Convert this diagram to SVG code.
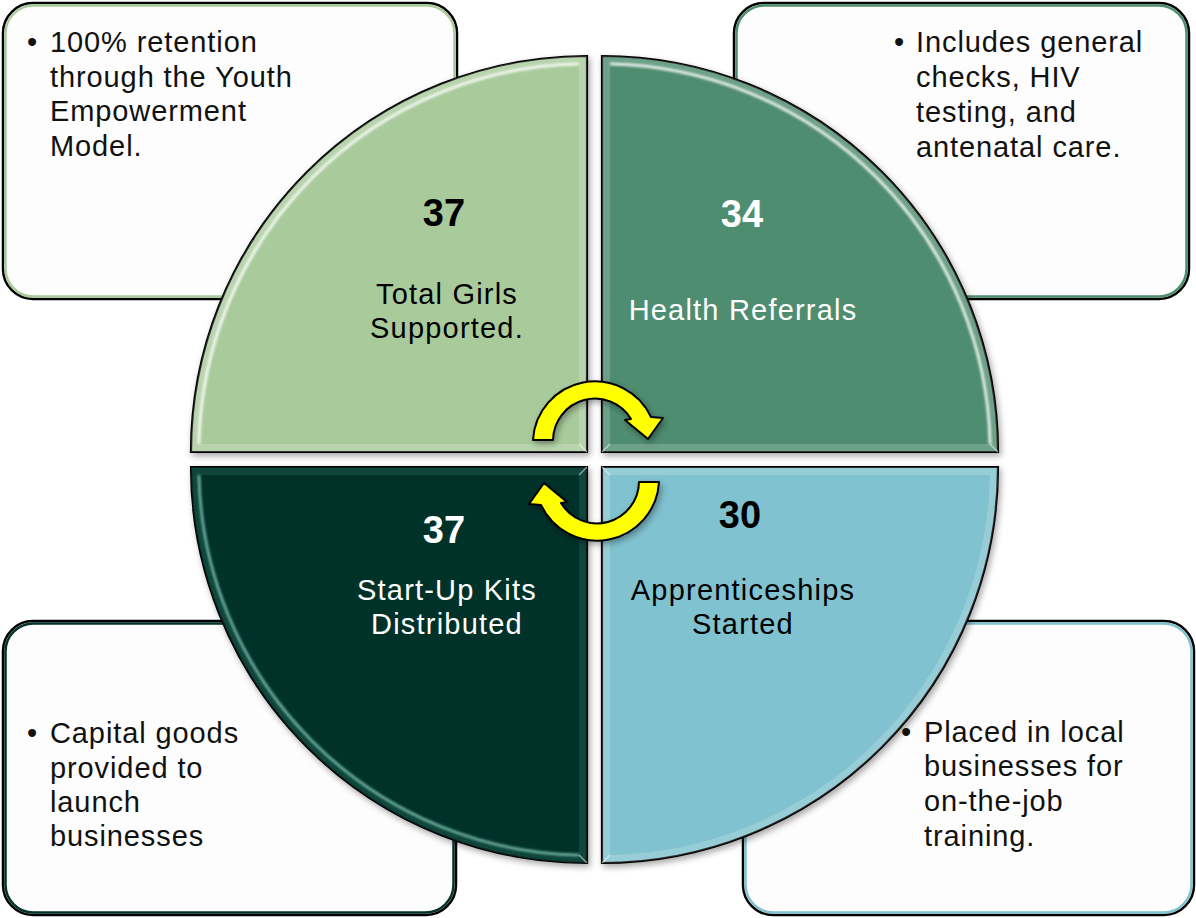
<svg xmlns="http://www.w3.org/2000/svg" width="1196" height="918" viewBox="0 0 1196 918">
  <defs>
    <style>
      .box-outer { fill: #fdfdfd; stroke: #000; stroke-width: 2.5; }
      .box-inner { fill: none; stroke-width: 2.5; }
      .quad { stroke: #000; stroke-width: 2.2; }
      .band { fill: #fff; fill-opacity: 0.18; fill-rule: evenodd; }
      .ridge { fill: none; stroke: #fff; stroke-width: 3; stroke-opacity: 0.8; }
      .miter { stroke: #fff; stroke-opacity: 0.5; stroke-width: 1.5; }
      .num { font-family: "Liberation Sans", Arial, sans-serif; font-weight: bold; font-size: 38px; text-anchor: middle; }
      .lbl { font-family: "Liberation Sans", Arial, sans-serif; font-size: 29px; letter-spacing: 1.2px; text-anchor: middle; }
      .note { font-family: "Liberation Sans", Arial, sans-serif; font-size: 29px; letter-spacing: 0.9px; fill: #111; }
      .arrow { fill: #ffff00; stroke: #000; stroke-width: 2; stroke-linejoin: round; }
    </style>
    <filter id="shadow" x="-10%" y="-10%" width="120%" height="120%">
      <feDropShadow dx="2" dy="3" stdDeviation="3" flood-color="#000" flood-opacity="0.35"/>
    </filter>
    <filter id="soft" x="-5%" y="-5%" width="110%" height="110%">
      <feGaussianBlur stdDeviation="1.2"/>
    </filter>
  </defs>

  <!-- callout boxes (behind the circle) -->
  <g id="note-retention">
    <rect class="box-outer" x="3" y="3" width="454" height="296" rx="30"/>
    <rect class="box-inner" x="5.5" y="5.5" width="449" height="291" rx="28" stroke="#a9cb9c"/>
    <text class="note" x="27" y="52">•</text>
    <text class="note"><tspan x="50" y="52">100% retention</tspan><tspan x="50" y="87">through the Youth</tspan><tspan x="50" y="121">Empowerment</tspan><tspan x="50" y="156">Model.</tspan></text>
  </g>
  <g id="note-health">
    <rect class="box-outer" x="734" y="3" width="455" height="296" rx="30"/>
    <rect class="box-inner" x="736.5" y="5.5" width="450" height="291" rx="28" stroke="#4f8d6f"/>
    <text class="note" x="894" y="52">•</text>
    <text class="note"><tspan x="916" y="52">Includes general</tspan><tspan x="916" y="87">checks, HIV</tspan><tspan x="916" y="122">testing, and</tspan><tspan x="916" y="157">antenatal care.</tspan></text>
  </g>
  <g id="note-kits">
    <rect class="box-outer" x="3" y="621" width="453" height="294" rx="30"/>
    <rect class="box-inner" x="5.5" y="623.5" width="448" height="289" rx="28" stroke="#02332b"/>
    <text class="note" x="27" y="743">•</text>
    <text class="note"><tspan x="50" y="743">Capital goods</tspan><tspan x="50" y="778">provided to</tspan><tspan x="50" y="812">launch</tspan><tspan x="50" y="846">businesses</tspan></text>
  </g>
  <g id="note-apprentice">
    <rect class="box-outer" x="743" y="621" width="451" height="294" rx="30"/>
    <rect class="box-inner" x="745.5" y="623.5" width="446" height="289" rx="28" stroke="#80c2cf"/>
    <text class="note" x="901" y="742">•</text>
    <text class="note"><tspan x="924" y="742">Placed in local</tspan><tspan x="924" y="776">businesses for</tspan><tspan x="924" y="811">on-the-job</tspan><tspan x="924" y="846">training.</tspan></text>
  </g>

  <!-- quarter-circle segments -->
  <g id="seg-girls">
    <path class="quad" filter="url(#shadow)" fill="#a9cb9c" d="M587,452 L191,452 A396,396 0 0 1 587,56 Z"/>
    <path class="band" d="M587,452 L191,452 A396,396 0 0 1 587,56 Z M579,444 L199,444 A388,388 0 0 1 579,64 Z"/>
    <path class="ridge" filter="url(#soft)" d="M199,444 A388,388 0 0 1 579,64"/>
    <line class="miter" x1="587" y1="452" x2="579" y2="444"/>
    <text class="num" x="444" y="226" fill="#000">37</text>
    <text class="lbl" fill="#000"><tspan x="447" y="304">Total Girls</tspan><tspan x="447" y="338">Supported.</tspan></text>
  </g>
  <g id="seg-health">
    <path class="quad" filter="url(#shadow)" fill="#4f8d6f" d="M602,452 L602,56 A396,396 0 0 1 998,452 Z"/>
    <path class="band" d="M602,452 L602,56 A396,396 0 0 1 998,452 Z M610,444 L610,64 A388,388 0 0 1 990,444 Z"/>
    <path class="ridge" filter="url(#soft)" d="M610,64 A388,388 0 0 1 990,444"/>
    <line class="miter" x1="602" y1="452" x2="610" y2="444"/>
    <line class="miter" x1="998" y1="452" x2="990" y2="444"/>
    <text class="num" x="742" y="227" fill="#fff">34</text>
    <text class="lbl" x="743" y="320" fill="#fff">Health Referrals</text>
  </g>
  <g id="seg-kits">
    <path class="quad" filter="url(#shadow)" fill="#02332b" d="M587,467 L587,863 A396,396 0 0 1 191,467 Z"/>
    <path class="band" fill="#3f8f80" style="fill:#3f8f80;fill-opacity:0.22" d="M587,467 L587,863 A396,396 0 0 1 191,467 Z M579,475 L579,855 A388,388 0 0 1 199,475 Z"/>
    <path class="ridge" filter="url(#soft)" style="stroke:#8fd3c2;stroke-opacity:0.7" d="M579,855 A388,388 0 0 1 199,475"/>
    <line class="miter" x1="587" y1="863" x2="579" y2="855"/>
    <line class="miter" x1="587" y1="467" x2="579" y2="475"/>
    <text class="num" x="444" y="543" fill="#fff">37</text>
    <text class="lbl" fill="#fff"><tspan x="447" y="600">Start-Up Kits</tspan><tspan x="447" y="634">Distributed</tspan></text>
  </g>
  <g id="seg-apprentice">
    <path class="quad" filter="url(#shadow)" fill="#80c2cf" d="M602,467 L998,467 A396,396 0 0 1 602,863 Z"/>
    <path class="band" d="M602,467 L998,467 A396,396 0 0 1 602,863 Z M610,475 L990,475 A388,388 0 0 1 610,855 Z"/>
    <path class="ridge" filter="url(#soft)" d="M610,475 L610,855"/>
    <line class="miter" x1="602" y1="863" x2="610" y2="855"/>
    <line class="miter" x1="602" y1="467" x2="610" y2="475"/>
    <text class="num" x="740" y="528" fill="#000">30</text>
    <text class="lbl" fill="#000"><tspan x="743" y="600">Apprenticeships</tspan><tspan x="743" y="634">Started</tspan></text>
  </g>

  <!-- cycle arrows -->
  <g id="connectors" filter="url(#shadow)">
    <path class="arrow" d="M533,440 A62,62 0 0 1 651,417 L663,418 L648,439 L625,420 L631,419 A42,42 0 0 0 553,440 Z"/>
    <path class="arrow" transform="rotate(180 596 461)" d="M533,440 A62,62 0 0 1 651,417 L663,418 L648,439 L625,420 L631,419 A42,42 0 0 0 553,440 Z"/>
  </g>
</svg>
